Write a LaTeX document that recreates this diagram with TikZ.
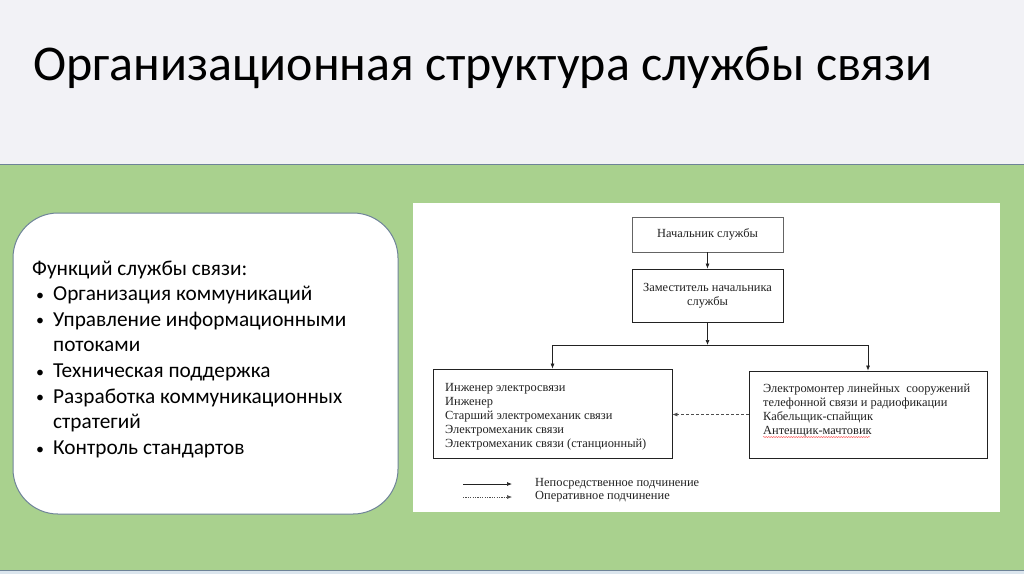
\documentclass[tikz,border=0pt]{standalone}
\usepackage{fontspec}
\setmainfont{Carlito}
\newfontfamily\serif{Liberation Serif}
\usetikzlibrary{arrows.meta,decorations.pathmorphing}
\definecolor{topbg}{HTML}{F2F2F6}
\definecolor{greenbg}{HTML}{A9D18E}
\definecolor{edge}{HTML}{6E8398}
\definecolor{botbg}{HTML}{DCE6EE}
\definecolor{ink}{HTML}{222222}
\newcommand{\smbul}{\hspace*{4pt}\raisebox{0.5pt}{\scalebox{0.75}{•}}}
\tikzset{
  orgbox/.style={draw=ink, line width=0.8pt, fill=white, inner sep=0pt},
  orgtext/.style={font=\serif\fontsize{12.4}{14}\selectfont, text=ink, align=left, inner sep=0pt},
  arr/.style={draw=ink, line width=0.7pt, -{Latex[length=5pt,width=4pt]}},
  darr/.style={draw=ink!80, line width=0.7pt, dash pattern=on 3pt off 2pt, -{Latex[length=5pt,width=4pt]}},
  ldarr/.style={draw=ink!80, line width=0.6pt, dash pattern=on 1.2pt off 1.2pt, -{Latex[length=5pt,width=4pt]}}
}
\begin{document}
\begin{tikzpicture}[x=1pt,y=-1pt]
\useasboundingbox (0,0) rectangle (1024,574);
% backgrounds
\fill[topbg] (0,0) rectangle (1024,164);
\fill[greenbg] (0,164) rectangle (1024,570);
\fill[botbg] (0,570) rectangle (1024,574);
\draw[edge, line width=1pt] (0,164) -- (1024,164);
\draw[edge, line width=1pt] (0,570) -- (1024,570);
% title
\node[anchor=base west, inner sep=0pt, font=\fontsize{50}{60}\selectfont, text=black] (title) at (33,80) {Организационная структура службы связи};
% left rounded box
\draw[edge, fill=white, line width=1pt, rounded corners=45pt] (13,213) rectangle (398,514);
\node[anchor=base west, inner sep=0pt, font=\fontsize{21.3}{25.65}\selectfont, text=black] (func) at (32,275) {%
\begin{tabular}[t]{@{}p{21pt}@{}l@{}}
\multicolumn{2}{@{}l@{}}{Функций службы связи:}\\
\smbul& Организация коммуникаций\\
\smbul& Управление информационными\\
& потоками\\
\smbul& Техническая поддержка\\
\smbul& Разработка коммуникационных\\
& стратегий\\
\smbul& Контроль стандартов
\end{tabular}};
% picture panel
\fill[white] (413,203) rectangle (1000,512);
% org chart
\node[orgbox, draw=ink!70, line width=0.6pt, minimum width=151pt, minimum height=35pt] (n1) at (707.5,234.5) {};
\node[orgtext, anchor=center] (n1t) at (707.5,234.5) {Начальник службы};
\node[orgbox, minimum width=151pt, minimum height=53pt] (n2) at (707.5,295.5) {};
\node[orgtext, align=center, anchor=center] (n2t) at (707.5,295.5) {Заместитель начальника\\службы};
\node[orgbox, minimum width=239pt, minimum height=89pt] (n3) at (552.5,413.5) {};
\node[orgtext, anchor=north west] (n3t) at (445,383.5) {Инженер электросвязи\\Инженер\\Старший электромеханик связи\\Электромеханик связи\\Электромеханик связи (станционный)};
\node[orgbox, minimum width=238pt, minimum height=87pt] (n4) at (868,414.5) {};
\node[orgtext, anchor=north west] (n4t) at (763,383.5) {Электромонтер линейных\ \ сооружений\\телефонной связи и радиофикации\\Кабельщик-спайщик\\Антенщик-мачтовик};
\draw[red!80, line width=0.4pt, decorate, decoration={snake, amplitude=0.5pt, segment length=2.5pt}] (763,437) -- (870,437);
\coordinate (j) at (707.5,345);
\draw[arr] (n1.south) -- (n2.north);
\draw[arr] (n2.south) -- (j);
\draw[arr] (j) -| (n3.north);
\draw[arr] (j) -| (n4.north);
\draw[darr] (n4.west) -- (n3.east |- n4.west);
% legend
\coordinate (l1a) at (463,484);
\coordinate (l1b) at (512,484);
\coordinate (l2a) at (463,497);
\coordinate (l2b) at (512,497);
\draw[arr] (l1a) -- (l1b);
\draw[ldarr] (l2a) -- (l2b);
\node[orgtext, anchor=west] (lg1) at (535,484) {Непосредственное подчинение};
\node[orgtext, anchor=west] (lg2) at (535,497) {Оперативное подчинение};
\end{tikzpicture}
\end{document}
